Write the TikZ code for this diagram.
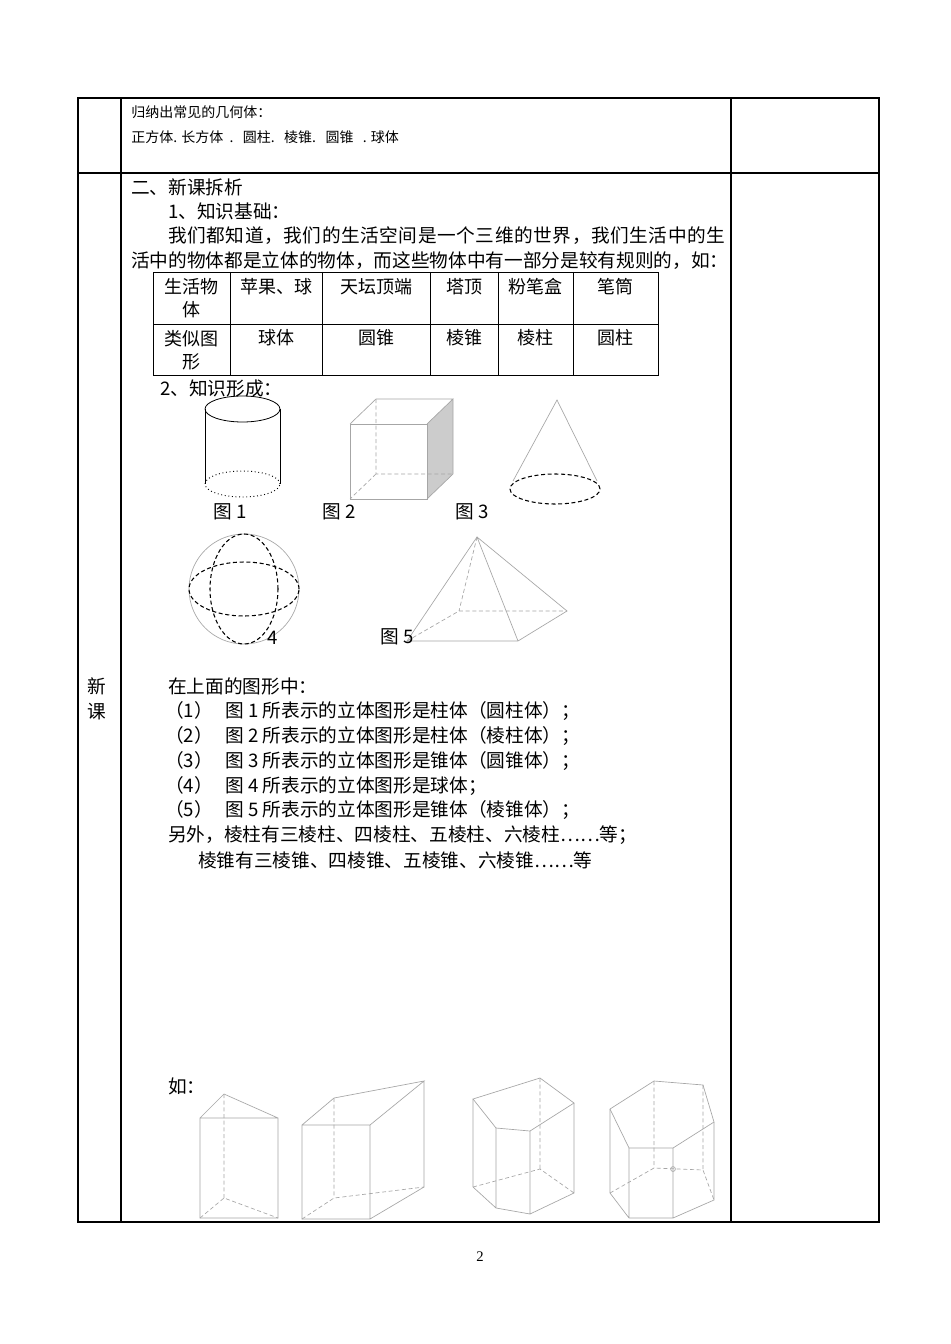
\documentclass[tikz,border=0pt]{standalone}
\usepackage{fontspec}
\setmainfont{Liberation Serif}
\newfontfamily\cjk{Noto Sans CJK SC}
\newfontfamily\cjkwide[LetterSpace=3]{Noto Sans CJK SC}
\begin{document}
\begin{tikzpicture}[x=0.75pt,y=-0.75pt,
  txt/.style={anchor=west,inner sep=0,font=\cjk\fontsize{14}{16}\selectfont},
  sml/.style={anchor=west,inner sep=0,font=\cjk\fontsize{10.5}{12}\selectfont},
  cell/.style={inner sep=0,align=center,font=\cjk\fontsize{13.5}{17}\selectfont},
  rule/.style={line width=0.8pt},
  geo/.style={gray!70,line width=0.5pt},
  hid/.style={gray!70,line width=0.5pt,dash pattern=on 3pt off 2pt},
  bold dash/.style={black,line width=0.8pt,dash pattern=on 3pt off 2pt}]
\useasboundingbox[fill=white] (0,0) rectangle (950,1344);
% outer table
\draw[rule] (78,98) rectangle (879,1222);
\draw[rule] (121,98) -- (121,1222) (731,98) -- (731,1222) (78,173) -- (879,173);
\node[sml] (t1) at (131,112) {归纳出常见的几何体：};
\node[sml] (t2) at (131,137) {正方体. 长方体\ \ .\ \ \ 圆柱.\ \ \ 棱锥.\ \ \ 圆锥\ \ \ . 球体};
\node[txt] (h1) at (131,187) {二、新课拆析};
\node[txt] (h2) at (168,211) {1、知识基础：};
\node[txt,font=\cjkwide\fontsize{14}{16}\selectfont] (p1) at (168,236) {我们都知道，我们的生活空间是一个三维的世界，我们生活中的生};
\node[txt] (p2) at (131,261) {活中的物体都是立体的物体，而这些物体中有一部分是较有规则的，如：};
% inner table
\draw[line width=0.6pt] (153,272) rectangle (658,375) (153,324) -- (658,324);
\foreach \x in {230,322,430,498,573} \draw[line width=0.6pt] (\x,272) -- (\x,375);
\node[cell] (c11) at (191.5,298) {生活物\\体};
\node[cell] (c12) at (276,287) {苹果、球};
\node[cell] (c13) at (376,287) {天坛顶端};
\node[cell] (c14) at (464,287) {塔顶};
\node[cell] (c15) at (535.5,287) {粉笔盒};
\node[cell] (c16) at (615.5,287) {笔筒};
\node[cell] (c21) at (191.5,350) {类似图\\形};
\node[cell] (c22) at (276,338) {球体};
\node[cell] (c23) at (376,338) {圆锥};
\node[cell] (c24) at (464,338) {棱锥};
\node[cell] (c25) at (535.5,338) {棱柱};
\node[cell] (c26) at (615.5,338) {圆柱};
\node[txt] (h3) at (160,388) {2、知识形成：};
% cylinder
\draw[black,line width=0.6pt] (242.5,409) ellipse (28.1pt and 9.75pt);
\draw[black,line width=0.6pt] (205,409) -- (205,484) (280,409) -- (280,484);
\draw[black,line width=0.7pt,dotted] (242.5,484) ellipse (28.1pt and 9.75pt);
% cube
\fill[gray!40] (427,424) -- (453,399) -- (453,474) -- (427,499) -- cycle;
\draw[geo] (350,424) rectangle (427,499);
\draw[geo] (350,424) -- (376,399) -- (453,399) -- (427,424) (453,399) -- (453,474) -- (427,499);
\draw[hid] (376,399) -- (376,474) -- (453,474) (376,474) -- (350,499);
% cone
\draw[geo] (513,481) -- (557,400) -- (597,481);
\draw[bold dash] (555,489) ellipse (33.75pt and 11.25pt);
\node[txt] (f1) at (213,512) {图 1};
\node[txt] (f2) at (322,512) {图 2};
\node[txt] (f3) at (455,512) {图 3};
% sphere
\draw[geo] (244,589) circle (41.25pt);
\draw[bold dash] (244,589) ellipse (41.25pt and 20.25pt);
\draw[bold dash] (244,589) ellipse (25.5pt and 41.25pt);
\node[txt] (f4) at (267,638) {4};
% pyramid
\draw[geo] (407,641) -- (477,537) -- (518,641) (477,537) -- (567,611) -- (518,641) -- (407,641);
\draw[hid] (477,537) -- (459,611) (407,641) -- (459,611) -- (567,611);
\node[txt] (f5) at (380,637) {图 5};
% text
\node[txt] (k1) at (87,686) {新};
\node[txt] (k2) at (87,712) {课};
\node[txt] (l0) at (168,686) {在上面的图形中：};
\node[txt] (l1) at (165,711) {（1）\ \ \ 图 1 所表示的立体图形是柱体（圆柱体）；};
\node[txt] (l2) at (165,736) {（2）\ \ \ 图 2 所表示的立体图形是柱体（棱柱体）；};
\node[txt] (l3) at (165,761) {（3）\ \ \ 图 3 所表示的立体图形是锥体（圆锥体）；};
\node[txt] (l4) at (165,786) {（4）\ \ \ 图 4 所表示的立体图形是球体；};
\node[txt] (l5) at (165,810) {（5）\ \ \ 图 5 所表示的立体图形是锥体（棱锥体）；};
\node[txt] (l6) at (168,835) {另外，棱柱有三棱柱、四棱柱、五棱柱、六棱柱……等；};
\node[txt] (l7) at (198,860) {棱锥有三棱锥、四棱锥、五棱锥、六棱锥……等};
\node[txt] (ru) at (168,1086) {如：};
% triangular prism
\draw[geo] (200,1118) rectangle (278,1218) (200,1118) -- (224,1094) -- (278,1118);
\draw[hid] (224,1094) -- (224,1198) (200,1218) -- (224,1198) -- (278,1218);
% quadrilateral prism
\draw[geo] (302,1125) rectangle (370,1219) (302,1125) -- (334,1098) -- (424,1081) -- (370,1125) (424,1081) -- (424,1187) -- (370,1219);
\draw[hid] (334,1098) -- (334,1198) (302,1219) -- (334,1198) -- (424,1187);
% pentagonal prism
\draw[geo] (473,1099) -- (540,1078) -- (574,1103) -- (530,1131) -- (496,1128) -- cycle;
\draw[geo] (473,1099) -- (473,1187) -- (496,1208) -- (530,1214) -- (574,1193) -- (574,1103) (496,1128) -- (496,1208) (530,1131) -- (530,1214);
\draw[hid] (540,1078) -- (540,1169) (473,1187) -- (540,1169) -- (574,1193);
% hexagonal prism
\draw[geo] (610,1109) -- (654,1081) -- (703,1085) -- (714,1122) -- (673,1148) -- (629,1148) -- cycle;
\draw[geo] (610,1109) -- (610,1193) -- (629,1218) -- (673,1218) -- (714,1200) -- (714,1122) (629,1148) -- (629,1218) (673,1148) -- (673,1218);
\draw[hid] (654,1081) -- (654,1168) (703,1085) -- (703,1170) (610,1193) -- (654,1168) -- (703,1170) -- (714,1200);
\draw[geo] (673,1169) circle (1.8pt);
\node[inner sep=0,font=\fontsize{11}{12}\selectfont] (pg) at (480,1257) {2};
\end{tikzpicture}
\end{document}
